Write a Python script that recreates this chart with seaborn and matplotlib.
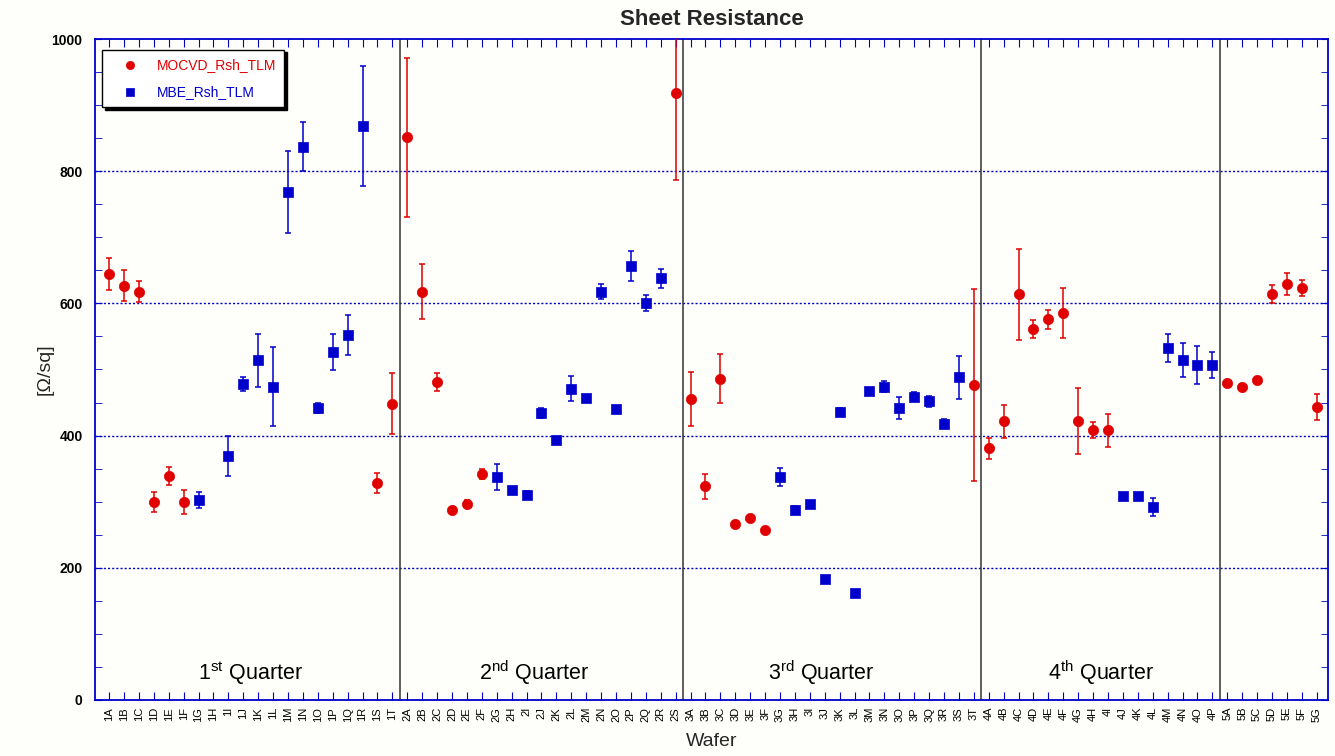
import numpy as np
import pandas as pd
import matplotlib
matplotlib.use("Agg")
import matplotlib.pyplot as plt
import seaborn as sns
from matplotlib.ticker import MultipleLocator

nan = np.nan

# wafer names per quarter
wafers = (["1" + c for c in "ABCDEFGHIJKLMNOPQRST"]
          + ["2" + c for c in "ABCDEFGHIJKLMNOPQRS"]
          + ["3" + c for c in "ABCDEFGHIJKLMNOPQRST"]
          + ["4" + c for c in "ABCDEFGHIJKLMNOP"]
          + ["5" + c for c in "ABCDEFG"])

# MOCVD sheet resistance and error
mocvd_rsh = [644, 627, 618, 300, 339, 299, nan, nan, nan, nan, nan, nan, nan, nan, nan, nan, nan, nan, 328, 448,
             851, 618, 481, 288, 297, 342, nan, nan, nan, nan, nan, nan, nan, nan, nan, nan, nan, nan, 918,
             455, 323, 486, 267, 276, 257, nan, nan, nan, nan, nan, nan, nan, nan, nan, nan, nan, nan, nan, 477,
             381, 422, 614, 561, 576, 585, 422, 408, 408, nan, nan, nan, nan, nan, nan, nan,
             480, 474, 484, 614, 629, 623, 443]
mocvd_err = [24, 24, 16, 15, 14, 18, 0, 0, 0, 0, 0, 0, 0, 0, 0, 0, 0, 0, 15, 46,
             121, 41, 14, 3, 5, 7, 0, 0, 0, 0, 0, 0, 0, 0, 0, 0, 0, 0, 131,
             41, 19, 37, 3, 3, 5, 0, 0, 0, 0, 0, 0, 0, 0, 0, 0, 0, 0, 0, 145,
             16, 25, 69, 14, 14, 38, 50, 12, 25, 0, 0, 0, 0, 0, 0, 0,
             3, 4, 3, 14, 17, 12, 20]

# MBE sheet resistance and error
mbe_rsh = [nan, nan, nan, nan, nan, nan, 303, nan, 369, 478, 514, 474, 769, 837, 442, 526, 552, 868, nan, nan,
           nan, nan, nan, nan, nan, nan, 337, 318, 310, 434, 393, 471, 457, 618, 440, 657, 601, 638, nan,
           nan, nan, nan, nan, nan, nan, 337, 288, 297, 183, 436, 162, 467, 474, 442, 459, 452, 418, 488, nan,
           nan, nan, nan, nan, nan, nan, nan, nan, nan, 308, 308, 292, 532, 514, 507, 507,
           nan, nan, nan, nan, nan, nan, nan]
mbe_err = [0, 0, 0, 0, 0, 0, 12, 0, 30, 11, 40, 60, 62, 37, 8, 27, 30, 91, 0, 0,
           0, 0, 0, 0, 0, 0, 20, 2, 6, 7, 2, 19, 5, 12, 2, 23, 12, 14, 0,
           0, 0, 0, 0, 0, 0, 14, 5, 2, 2, 5, 2, 3, 8, 17, 7, 8, 7, 33, 0,
           0, 0, 0, 0, 0, 0, 0, 0, 0, 4, 4, 14, 21, 26, 29, 20,
           0, 0, 0, 0, 0, 0, 0]

quarter_labels = [r"1$^{\mathrm{st}}$ Quarter", r"2$^{\mathrm{nd}}$ Quarter",
                  r"3$^{\mathrm{rd}}$ Quarter", r"4$^{\mathrm{th}}$ Quarter"]
quarter_centers = [9.5, 28.5, 47.8, 66.5]
quarter_breaks = [19.5, 38.5, 58.5, 74.5]

df = pd.DataFrame({"wafer": wafers, "mocvd": mocvd_rsh, "mocvd_err": mocvd_err,
                   "mbe": mbe_rsh, "mbe_err": mbe_err})
df["pos"] = np.arange(len(df))

red = "#E00000"
blue = "#0000CC"
bg = "#FEFEFA"

sns.set_style("ticks")
plt.rcParams["font.family"] = ["Liberation Sans", "DejaVu Sans"]
plt.rcParams["mathtext.fontset"] = "custom"
plt.rcParams["mathtext.rm"] = "Liberation Sans"

fig = plt.figure(figsize=(13.35, 7.56), dpi=100, facecolor=bg)
ax = fig.add_axes([0.0712, 0.0741, 0.9236, 0.8743], facecolor=bg)

# error bars
ax.errorbar(df["pos"], df["mocvd"], yerr=df["mocvd_err"], fmt="none", ecolor=red,
            elinewidth=1.1, capsize=2.5, capthick=1.1, zorder=3)
ax.errorbar(df["pos"], df["mbe"], yerr=df["mbe_err"], fmt="none", ecolor=blue,
            elinewidth=1.1, capsize=2.5, capthick=1.1, zorder=3)

sns.scatterplot(data=df, x="pos", y="mocvd", ax=ax, color=red, marker="o", s=55,
                edgecolor=red, linewidth=0.5, zorder=4, label="MOCVD_Rsh_TLM")
sns.scatterplot(data=df, x="pos", y="mbe", ax=ax, color=blue, marker="s", s=45,
                edgecolor=blue, linewidth=0.5, zorder=4, label="MBE_Rsh_TLM")

# quarter separators
for b in quarter_breaks:
    ax.axvline(b, color="#333333", lw=1.1, zorder=2)
for lab, c in zip(quarter_labels, quarter_centers):
    ax.text(c, 41, lab, ha="center", va="center", fontsize=15.5, color="black")

# grid
for g in [200, 400, 600, 800]:
    ax.axhline(g, color=blue, lw=1.0, ls=(0, (1.5, 1.5)), zorder=1)

ax.set_xlim(-0.94, 81.76)
ax.set_ylim(0, 1000)
ax.set_xticks(df["pos"])
ax.set_xticklabels(df["wafer"], rotation=90, fontsize=8)
ax.yaxis.set_major_locator(MultipleLocator(200))
ax.yaxis.set_minor_locator(MultipleLocator(50))
for t in ax.get_yticklabels():
    t.set_fontweight("bold")
ax.tick_params(axis="y", which="both", direction="in", colors=blue, left=True, right=True,
               labelcolor="black", labelsize=10, length=5, pad=9)
ax.tick_params(axis="x", direction="in", colors=blue, top=True, bottom=True, length=6,
               labelcolor="black", pad=5)
for s in ax.spines.values():
    s.set_color(blue)
    s.set_linewidth(1.3)

ax.set_title("Sheet Resistance", fontsize=16, fontweight="bold", pad=10)
ax.set_xlabel("Wafer", fontsize=14, labelpad=8)
ax.set_ylabel("[Ω/sq]", fontsize=14)
ax.yaxis.set_label_coords(-0.034, 0.5)

leg = ax.legend(loc="upper left", bbox_to_anchor=(0.006, 0.984), borderaxespad=0,
                fancybox=False, shadow={"color": "black", "alpha": 1}, frameon=True,
                fontsize=10, handletextpad=0.6, borderpad=0.6, labelspacing=0.95,
                markerscale=0.8, handlelength=2.7, edgecolor="black")
leg.get_frame().set_linewidth(1.0)
leg.get_frame().set_facecolor("white")
for txt, col in zip(leg.get_texts(), [red, blue]):
    txt.set_color(col)

fig.savefig("out.png", dpi=100, facecolor=bg)
